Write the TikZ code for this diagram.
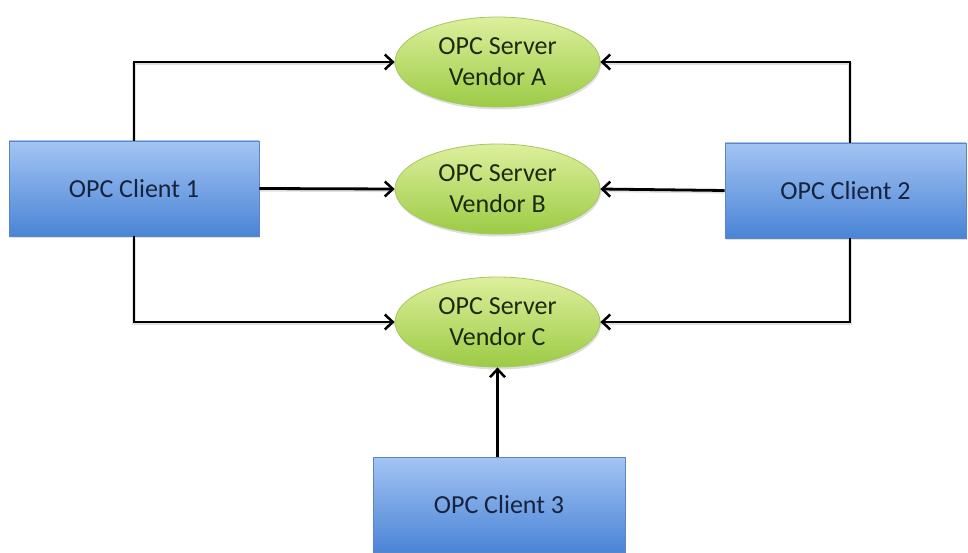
\documentclass[tikz,border=0pt]{standalone}
\usepackage{fontspec}
\setmainfont{Carlito}
\usetikzlibrary{arrows.meta,shapes.geometric,shadows,calc}
\definecolor{clienttop}{HTML}{A3C4F3}
\definecolor{clientbot}{HTML}{4A84D6}
\definecolor{clientedge}{HTML}{5B86C4}
\definecolor{clienttext}{HTML}{16233F}
\definecolor{servtop}{HTML}{DDEF9C}
\definecolor{servbot}{HTML}{9CCB45}
\definecolor{servedge}{HTML}{A3C862}
\definecolor{servtext}{HTML}{1C2A0C}
\tikzset{
  client/.style={rectangle, draw=clientedge, line width=0.8pt,
    top color=clienttop, bottom color=clientbot,
    minimum height=95pt, inner sep=0pt,
    font=\fontsize{26}{31}\selectfont, text=clienttext,
    drop shadow={opacity=0.25, shadow xshift=1pt, shadow yshift=-2.5pt}},
  server/.style={ellipse, draw=servedge, line width=0.8pt,
    top color=servtop, bottom color=servbot,
    minimum width=205pt, minimum height=90pt, inner sep=0pt,
    align=center, font=\fontsize{26}{31}\selectfont, text=servtext,
    drop shadow={opacity=0.25, shadow xshift=1pt, shadow yshift=-2.5pt}},
  link/.style={draw=black, line width=2.8pt,
    -{Straight Barb[length=8pt, width=15pt, line width=2.5pt]},
    preaction={draw=black!35, line width=3.2pt, transform canvas={yshift=-1.5pt}, opacity=0.35, -}},
}
\begin{document}
\begin{tikzpicture}[x=1pt, y=-1pt]
  \useasboundingbox (0,0) rectangle (968,553);
  % servers
  \node[server] (sa) at (497.5, 62) {OPC Server\\Vendor A};
  \node[server] (sb) at (497.5, 189) {OPC Server\\Vendor B};
  \node[server] (sc) at (497.5, 322) {OPC Server\\Vendor C};
  % clients
  \node[client, minimum width=250pt] (c1) at (134, 188.5) {OPC Client 1};
  \node[client, minimum width=241pt] (c2) at (845.5, 190.5) {OPC Client 2};
  \node[client, minimum width=252pt] (c3) at (499, 505) {OPC Client 3};
  % connections
  \draw[link] (c1.north) |- (sa.west);
  \draw[link] ([xshift=4.5pt]c2.north) |- (sa.east);
  \draw[link] (c1.east) -- (sb.west);
  \draw[link] (c2.west) -- (sb.east);
  \draw[link] (c1.south) |- (sc.west);
  \draw[link] ([xshift=4.5pt]c2.south) |- (sc.east);
  \draw[link] (c3.north -| sc.south) -- (sc.south);
\end{tikzpicture}
\end{document}
